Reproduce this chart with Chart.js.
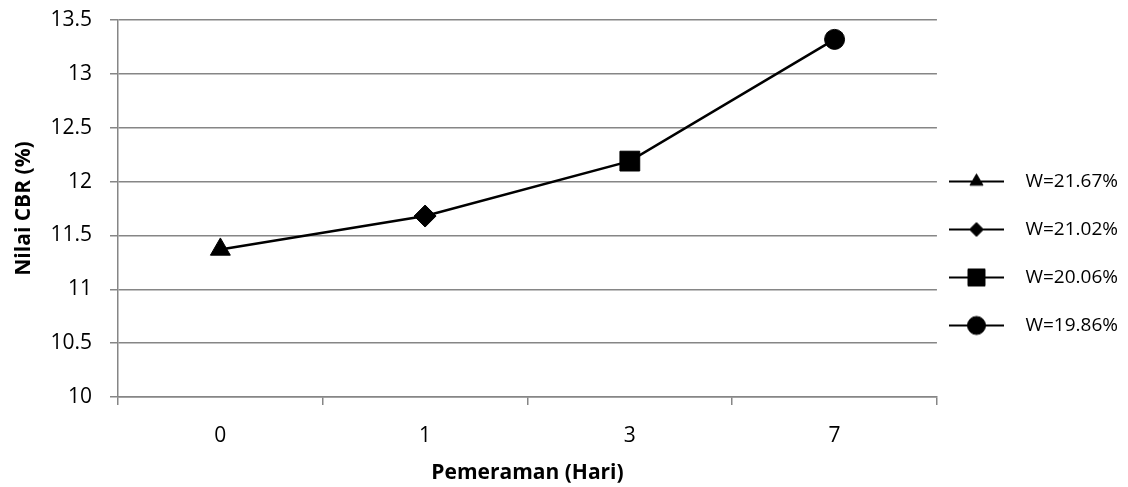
<!DOCTYPE html>
<html><head><meta charset="utf-8">
<script src="https://cdn.jsdelivr.net/npm/chart.js@4/dist/chart.umd.min.js"></script>
<style>html,body{margin:0;padding:0;background:#fff}#wrap{position:relative;width:1128px;height:487px}</style>
</head><body><div id="wrap"><canvas id="c"></canvas></div>
<script>
const categories = ['0', '1', '3', '7'];
const cbrValues = [11.37, 11.68, 12.19, 13.32];
const seriesLabels = ['W=21.67%', 'W=21.02%', 'W=20.06%', 'W=19.86%'];
const markerStyles = ['triangle', 'rectRot', 'rect', 'circle'];
const yMin = 10, yMax = 13.5, yStep = 0.5;
const xTitle = 'Pemeraman (Hari)';
const yTitle = 'Nilai CBR (%)';

const GRID = '#868686';
Chart.defaults.font.family = "'Open Sans', sans-serif";
Chart.defaults.color = '#000';

const markerRadius = [11.5, 11, 14, 10];
const legendRadius = [7.5, 7, 12, 9];

function legendSymbol(style, r) {
  const c = document.createElement('canvas');
  c.width = 86; c.height = 28;
  const ctx = c.getContext('2d');
  ctx.strokeStyle = '#000'; ctx.lineWidth = 2;
  ctx.beginPath(); ctx.moveTo(1, 14); ctx.lineTo(56, 14); ctx.stroke();
  ctx.fillStyle = '#000'; ctx.lineWidth = 1;
  Chart.helpers.drawPoint(ctx, {pointStyle: style, radius: r, rotation: 0, borderWidth: 1}, 28.5, 14);
  return c;
}

new Chart(document.getElementById('c'), {
  type: 'line',
  data: {
    labels: categories,
    datasets: [{
      label: 'CBR',
      data: cbrValues,
      borderColor: '#000',
      borderWidth: 2.5,
      backgroundColor: '#000',
      pointStyle: markerStyles,
      pointRadius: markerRadius,
      pointHoverRadius: markerRadius,
      pointBackgroundColor: '#000',
      pointBorderColor: '#000',
      pointBorderWidth: 1,
      tension: 0,
      fill: false,
      clip: false
    }]
  },
  options: {
    responsive: true,
    maintainAspectRatio: false,
    animation: false,
    events: [],
    layout: {padding: {top: 20, left: 0, right: 0, bottom: 0}},
    plugins: {
      tooltip: {enabled: false},
      legend: {
        position: 'right',
        labels: {
          usePointStyle: true,
          pointStyleWidth: 50,
          padding: 29,
          font: {size: 19},
          color: '#000',
          generateLabels: () => seriesLabels.map((t, i) => ({
            text: t,
            pointStyle: legendSymbol(markerStyles[i], legendRadius[i]),
            fillStyle: '#000', strokeStyle: '#000', lineWidth: 0,
            hidden: false, datasetIndex: 0
          }))
        }
      }
    },
    scales: {
      x: {
        offset: true,
        grid: {offset: true, drawOnChartArea: false, drawTicks: true, tickLength: 8, color: GRID, lineWidth: 1.5},
        border: {display: true, color: GRID, width: 1.5},
        ticks: {padding: 18, font: {size: 21}, color: '#000'},
        title: {display: true, text: xTitle, font: {size: 21, weight: 'bold'}, padding: {top: 0, bottom: 1}, color: '#000'},
        afterFit(s) { s.height = 90; }
      },
      y: {
        min: yMin, max: yMax,
        ticks: {stepSize: yStep, padding: 18, font: {size: 21}, color: '#000',
          callback: v => String(Number(v.toFixed(1)))},
        grid: {color: GRID, lineWidth: 1.5, tickLength: 8},
        border: {display: true, color: GRID, width: 1.5},
        title: {display: true, text: yTitle, font: {size: 21, weight: 'bold'}, padding: {top: 11, bottom: 0}, color: '#000'},
        afterFit(s) { s.width = 118; s.paddingTop = 0; s.paddingBottom = 0; }
      }
    }
  }
});
</script></body></html>
